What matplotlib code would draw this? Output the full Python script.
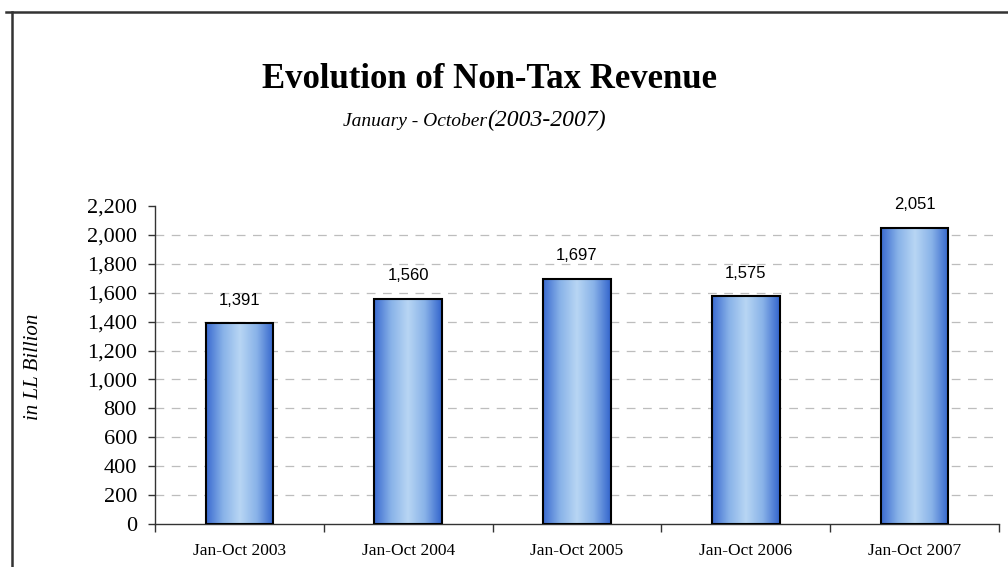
import matplotlib
matplotlib.use("Agg")
import matplotlib.pyplot as plt
import numpy as np
from matplotlib.colors import LinearSegmentedColormap
from matplotlib.lines import Line2D

categories = ["Jan-Oct 2003", "Jan-Oct 2004", "Jan-Oct 2005", "Jan-Oct 2006", "Jan-Oct 2007"]
values = [1391, 1560, 1697, 1575, 2051]
value_labels = ["1,391", "1,560", "1,697", "1,575", "2,051"]
yticks = list(range(0, 2201, 200))

fig = plt.figure(figsize=(10.08, 5.67), dpi=100)
ax = fig.add_axes([155/1008, 1-524/567, (999-155)/1008, (524-206)/567])

x = np.arange(len(categories))
bars = ax.bar(x, values, width=0.4, color="none", edgecolor="black", linewidth=1.5, zorder=3)

cmap = LinearSegmentedColormap.from_list("g", ["#3a6ad0", "#88b2e8", "#b8d6f4", "#88b2e8", "#3364cc"])
grad = np.linspace(0, 1, 256).reshape(1, -1)
for b in bars:
    bx, by = b.get_x(), b.get_y()
    w, h = b.get_width(), b.get_height()
    im = ax.imshow(grad, cmap=cmap, extent=[bx, bx + w, by, by + h], aspect="auto", zorder=2)
    im.set_clip_path(b)

for xi, v, lab in zip(x, values, value_labels):
    ax.annotate(lab, (xi, v), xytext=(0, 11), textcoords="offset points", ha="center", va="bottom",
                fontsize=12, family="Liberation Sans")

ax.set_xlim(-0.5, len(categories) - 0.5)
ax.set_ylim(0, 2200)
ax.set_yticks(yticks)
ax.set_yticklabels([f"{t:,}" for t in yticks], family="Liberation Serif", fontsize=16)
ax.set_xticks(x)
ax.set_xticklabels(categories, family="Liberation Serif", fontsize=12.5)
ax.set_xticks(np.arange(-0.5, len(categories)), minor=True)
ax.tick_params(axis="x", which="major", length=0, pad=14)
ax.tick_params(axis="x", which="minor", length=6, direction="out", width=1, color="#333333")
ax.tick_params(axis="y", length=5, direction="out", width=1, color="#333333", pad=8)

for s in ["top", "right"]:
    ax.spines[s].set_visible(False)
for s in ["left", "bottom"]:
    ax.spines[s].set_color("#333333")
    ax.spines[s].set_linewidth(1)

for t in yticks[1:-1]:
    ax.axhline(t, color="#bdbdbd", linestyle=(0, (7, 6)), linewidth=0.9, zorder=1)

ax.set_ylabel("in LL Billion", family="Liberation Serif", style="italic", fontsize=15)
ax.yaxis.set_label_coords((43 - 155) / 844, (524 - 367) / 318)

fig.text(489/1008, 1-80/567, "Evolution of Non-Tax Revenue", ha="center", va="center",
         family="Liberation Serif", fontweight="bold", fontsize=25)
fig.text(487/1008, 1-126/567, "January - October", ha="right", va="baseline",
         family="Liberation Serif", style="italic", fontsize=14)
fig.text(487/1008, 1-126/567, "(2003-2007)", ha="left", va="baseline",
         family="Liberation Serif", style="italic", fontsize=17)

fig.add_artist(Line2D([6/1008, 1], [1-12/567, 1-12/567], color="#333333", linewidth=1.8, transform=fig.transFigure))
fig.add_artist(Line2D([12/1008, 12/1008], [1-12/567, 0], color="#333333", linewidth=1.8, transform=fig.transFigure))

fig.savefig("out.png", dpi=100)
